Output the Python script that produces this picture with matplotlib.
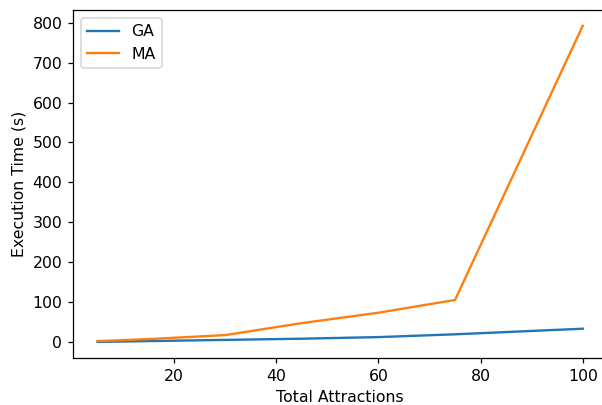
import matplotlib
matplotlib.use('Agg')
import matplotlib.pyplot as plt

attractions = [5, 15, 30, 45, 60, 75, 100]
ga_time = [1, 3, 6, 9, 13, 20, 34]
ma_time = [3, 8, 18, 48, 74, 106, 792]

plt.rcParams['font.size'] = 10

dpi = 113
fig = plt.figure(figsize=(602 / dpi, 405 / dpi), dpi=dpi)
# axes runs a little past the right edge, like the cropped original
ax = fig.add_axes([0.1218, 0.1168, 0.8865, 0.8585])
ax.spines['right'].set_visible(False)

ax.plot(attractions, ga_time, label='GA')
ax.plot(attractions, ma_time, label='MA')

ax.set_xlabel('Total Attractions')
ax.set_ylabel('Execution Time (s)')
ax.legend(loc='upper left')

fig.savefig('out.png', dpi=dpi)
